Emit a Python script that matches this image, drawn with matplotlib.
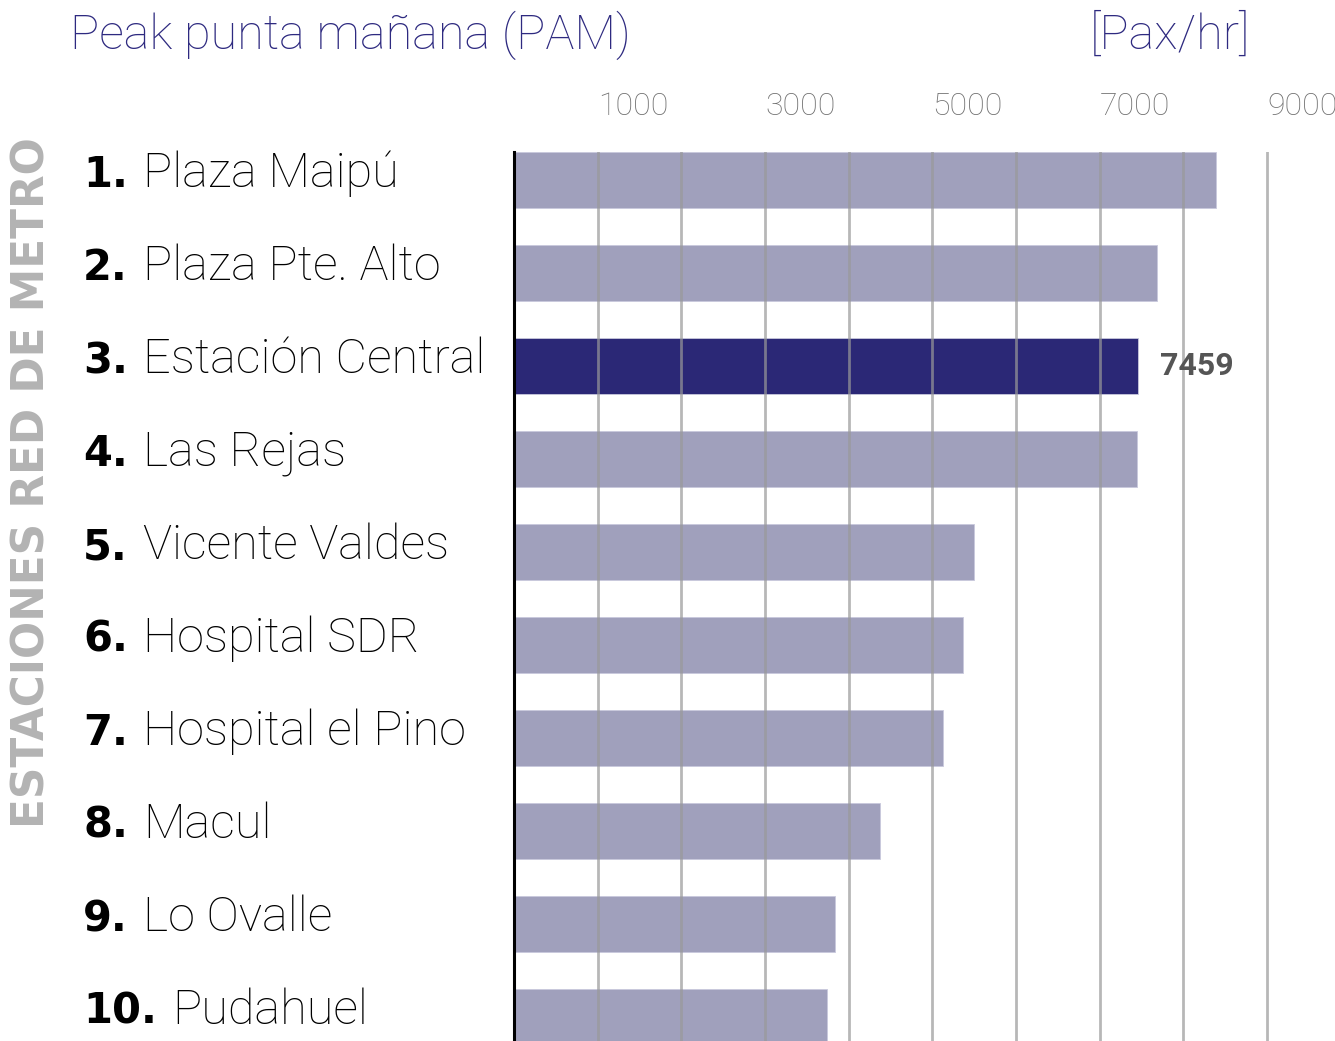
import matplotlib
matplotlib.use("Agg")
import matplotlib.pyplot as plt
import numpy as np


W, H = 1335, 1041

ranks = ["1.", "2.", "3.", "4.", "5.", "6.", "7.", "8.", "9.", "10."]
stations = [
    "Plaza Maipú", "Plaza Pte. Alto", "Estación Central", "Las Rejas",
    "Vicente Valdes", "Hospital SDR", "Hospital el Pino", "Macul",
    "Lo Ovalle", "Pudahuel",
]
pax_hr = [8390, 7680, 7459, 7450, 5500, 5370, 5130, 4370, 3840, 3735]
highlight = "Estación Central"

grid_ticks = list(range(0, 10000, 1000))
tick_labels = ["1000", "3000", "5000", "7000", "9000"]

BAR = "#a0a0bc"
DARK = "#2b2876"
TITLE = "#2e2a80"

plt.rcParams["font.family"] = ["Roboto", "DejaVu Sans"]


def fx(px):
    return px / W


def fy(py):
    return 1 - py / H


fig = plt.figure(figsize=(W / 100, H / 100), dpi=100)
ax = fig.add_axes([fx(514), 0, fx(1275.5) - fx(514), fy(152)])

y = np.arange(len(stations))
colors = [DARK if s == highlight else BAR for s in stations]
ax.barh(y, pax_hr, height=0.6, color=colors, edgecolor="#c8c8dc",
        linewidth=0.6, zorder=1)
ax.set_ylim(9.258, -0.3)
ax.set_xlim(0, 9100)

ax.set_xticks(grid_ticks)
ax.set_xticklabels(["" if str(t) not in tick_labels else str(t) for t in grid_ticks])
ax.xaxis.tick_top()
ax.tick_params(axis="x", length=0, pad=22, labelsize=23, labelcolor="#707070")
for lab in ax.get_xticklabels():
    lab.set_horizontalalignment("left")
    lab.set_fontweight("light")
ax.set_yticks([])
ax.grid(axis="x", color="#999999", alpha=0.7, linewidth=2, zorder=2)
ax.set_axisbelow(False)

for side in ["top", "right", "bottom"]:
    ax.spines[side].set_visible(False)
ax.spines["left"].set_linewidth(2.2)
ax.spines["left"].set_color("black")
ax.spines["left"].set_zorder(3)

# value callout on the highlighted station
i = stations.index(highlight)
ax.annotate(str(pax_hr[i]), xy=(pax_hr[i], i), xytext=(16, 0),
            textcoords="offset points", va="center", ha="left",
            fontsize=23, fontweight="bold", color="#555555", zorder=4)

fig.text(fx(70), fy(49), "Peak punta mañana (PAM)", fontsize=35,
         fontweight="light", color=TITLE, va="baseline", ha="left")
fig.text(fx(1250), fy(49), "[Pax/hr]", fontsize=35, fontweight="light",
         color=TITLE, va="baseline", ha="right")

fig.text(fx(32), fy(483), "ESTACIONES RED DE METRO", rotation=90,
         family="DejaVu Sans", fontsize=31.5, fontweight="bold",
         color="#b3b3b3", ha="center", va="center")

# row labels: heavy rank number followed by the station name
fig.canvas.draw()
renderer = fig.canvas.get_renderer()
row_px = 93.0
for k, (rank, name) in enumerate(zip(ranks, stations)):
    base = 187 + k * row_px
    t = fig.text(fx(83), fy(base), rank, family="DejaVu Sans", fontsize=30,
                 fontweight="bold", color="black", va="baseline", ha="left")
    bb = t.get_window_extent(renderer)
    fig.text((bb.x1 + 15) / W, fy(base), name, fontsize=35,
             fontweight="light", color="#000000", va="baseline", ha="left")

fig.savefig("out.png", dpi=100)
